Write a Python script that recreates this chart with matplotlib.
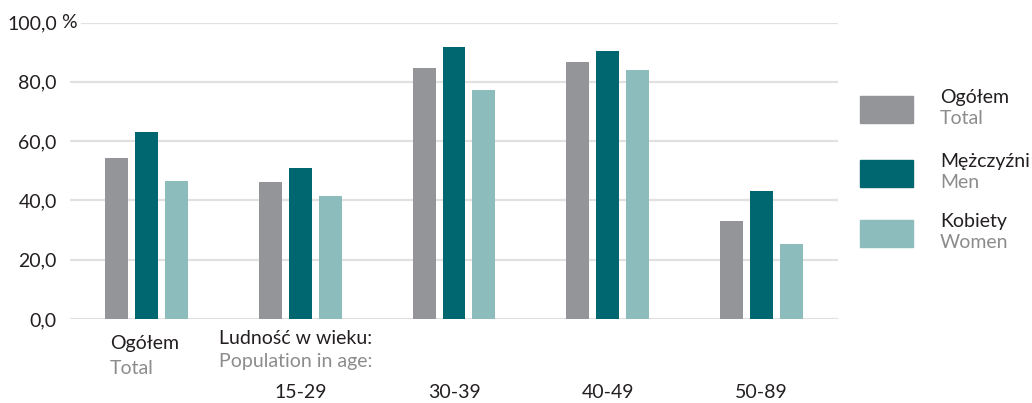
import matplotlib
matplotlib.use("Agg")
import matplotlib.pyplot as plt
import numpy as np

plt.rcParams["font.family"] = ["Lato", "DejaVu Sans"]

groups = ["Ogółem", "15-29", "30-39", "40-49", "50-89"]
total = [54.3, 46.2, 84.7, 86.7, 33.1]
men = [63.1, 50.9, 91.7, 90.4, 43.2]
women = [46.5, 41.5, 77.2, 84.0, 25.3]
yticks = [0, 20, 40, 60, 80, 100]
ytick_labels = ["0,0", "20,0", "40,0", "60,0", "80,0", "100,0"]

C_TOTAL = "#939598"
C_MEN = "#00666f"
C_WOMEN = "#8dbcbd"
C_TXT = "#231f20"
C_SUB = "#8c8c8e"
FS = 14

W, H = 1032, 403
fig = plt.figure(figsize=(W / 100, H / 100), dpi=100)
# axes box in pixels: x 70..838, y 22.5..319
ax = fig.add_axes([70 / W, (H - 319) / H, 768 / W, 296.5 / H])

x = np.arange(len(groups)) + 0.5
bw = 23 / 154
off = 30 / 154
ax.bar(x - off, total, bw, color=C_TOTAL, zorder=3)
ax.bar(x, men, bw, color=C_MEN, zorder=3)
ax.bar(x + off, women, bw, color=C_WOMEN, zorder=3)

for v in yticks:
    ax.axhline(v, color="#e1e1e1", lw=1.6, zorder=1,
               xmin=(12 / 768 if v == 100 else 0))

ax.set_xlim(0, len(groups))
ax.set_ylim(0, 100)
ax.set_yticks(yticks)
ax.set_yticklabels(ytick_labels, fontsize=FS, color=C_TXT)
ax.tick_params(axis="y", length=0, pad=9.5)
ax.set_xticks([])
for s in ax.spines.values():
    s.set_visible(False)


def fy(ypx):
    return 1 - ypx / H


fig.text(61 / W, fy(23), "%", fontsize=FS, color=C_TXT, va="center")

# category labels below the axis
fig.text(110 / W, fy(344), "Ogółem", fontsize=FS, color=C_TXT, va="center")
fig.text(110 / W, fy(368), "Total", fontsize=FS, color=C_SUB, va="center")
fig.text(219 / W, fy(338), "Ludność w wieku:", fontsize=FS, color=C_TXT, va="center")
fig.text(219 / W, fy(362), "Population in age:", fontsize=FS, color=C_SUB, va="center")
for xi, g in zip(x[1:], groups[1:]):
    ax.text(xi, -(393 - 319) / 296.5, g, transform=ax.get_xaxis_transform(),
            ha="center", va="center", fontsize=FS, color=C_TXT, clip_on=False)

# legend drawn by hand
legend = [("Ogółem", "Total", C_TOTAL, 96),
          ("Mężczyźni", "Men", C_MEN, 160),
          ("Kobiety", "Women", C_WOMEN, 220)]
for pl, en, c, top in legend:
    fig.patches.append(plt.Rectangle((860 / W, fy(top + 27)), 53 / W, 27 / H,
                                     color=c, transform=fig.transFigure))
    fig.text(940 / W, fy(top + 2), pl, fontsize=FS, color=C_TXT, va="center")
    fig.text(940 / W, fy(top + 23), en, fontsize=FS, color=C_SUB, va="center")

fig.savefig("out.png", dpi=100)
